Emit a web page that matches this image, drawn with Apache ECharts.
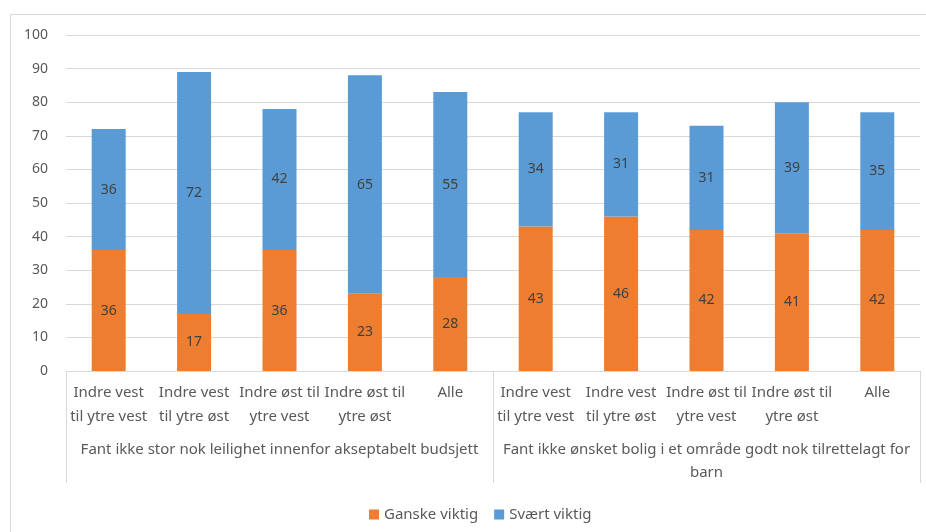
<!DOCTYPE html>
<html>
<head>
<meta charset="utf-8">
<script src="https://cdn.jsdelivr.net/npm/echarts@6/dist/echarts.min.js"></script>
<style>
  html, body { margin: 0; padding: 0; background: #fff; }
  #chart { width: 926px; height: 532px; }
</style>
</head>
<body>
<div id="chart"></div>
<script>
// Region pairs (inner axis level) and the two survey questions (outer level)
const categories = [
  'Indre vest til ytre vest', 'Indre vest til ytre øst', 'Indre øst til ytre vest', 'Indre øst til ytre øst', 'Alle',
  'Indre vest til ytre vest', 'Indre vest til ytre øst', 'Indre øst til ytre vest', 'Indre øst til ytre øst', 'Alle'
];
const groups = [
  'Fant ikke stor nok leilighet innenfor akseptabelt budsjett',
  'Fant ikke ønsket bolig i et område godt nok tilrettelagt for barn'
];
const ganskeViktig = [36, 17, 36, 23, 28, 43, 46, 42, 41, 42];
const svaertViktig = [36, 72, 42, 65, 55, 34, 31, 31, 39, 35];
const yTicks = [0, 10, 20, 30, 40, 50, 60, 70, 80, 90, 100];

const FONT = 'Noto Sans';
const TEXT = '#595959';
const LINE = '#D9D9D9';

// Greedy word wrap by character count
function wrap(text, maxChars) {
  const lines = [];
  let cur = '';
  text.split(' ').forEach(function (w) {
    const next = cur ? cur + ' ' + w : w;
    if (next.length > maxChars && cur) {
      lines.push(cur);
      cur = w;
    } else {
      cur = next;
    }
  });
  if (cur) lines.push(cur);
  return lines.join('\n');
}

const chart = echarts.init(document.getElementById('chart'));

const labelStyle = {
  show: true,
  position: 'inside',
  color: '#404040',
  fontFamily: FONT,
  fontSize: 14
};

chart.setOption({
  animation: false,
  backgroundColor: '#fff',
  textStyle: { fontFamily: FONT },
  graphic: [{
    type: 'rect',
    shape: { x: 10.5, y: 14.5, width: 940, height: 540 },
    style: { fill: 'none', stroke: LINE, lineWidth: 1 },
    silent: true,
    z: -1
  }],
  grid: { left: 66, right: 6, top: 35, bottom: 161 },
  legend: {
    left: 364,
    top: 502,
    itemWidth: 10,
    itemHeight: 10,
    itemGap: 16,
    icon: 'rect',
    textStyle: { color: TEXT, fontFamily: FONT, fontSize: 15 },
    data: ['Ganske viktig', 'Svært viktig']
  },
  xAxis: [{
    type: 'category',
    data: categories,
    position: 'bottom',
    axisLine: { show: true, lineStyle: { color: LINE } },
    axisTick: { show: false },
    axisLabel: {
      interval: 0,
      margin: 10,
      color: TEXT,
      fontFamily: FONT,
      fontSize: 15,
      lineHeight: 24,
      formatter: function (v) { return wrap(v, 13); }
    }
  }, {
    type: 'category',
    data: groups,
    position: 'bottom',
    axisLine: { show: false },
    axisTick: { show: true, length: 112, lineStyle: { color: LINE } },
    axisLabel: {
      interval: 0,
      margin: 67,
      color: TEXT,
      fontFamily: FONT,
      fontSize: 15,
      lineHeight: 23,
      formatter: function (v) { return wrap(v, 60); }
    }
  }],
  yAxis: {
    type: 'value',
    min: yTicks[0],
    max: yTicks[yTicks.length - 1],
    interval: yTicks[1] - yTicks[0],
    axisLine: { show: false },
    axisTick: { show: false },
    axisLabel: { margin: 18, color: TEXT, fontFamily: FONT, fontSize: 14 },
    splitLine: { lineStyle: { color: LINE } }
  },
  series: [{
    name: 'Ganske viktig',
    type: 'bar',
    stack: 'total',
    data: ganskeViktig,
    barWidth: 34,
    itemStyle: { color: '#ED7D31' },
    label: labelStyle
  }, {
    name: 'Svært viktig',
    type: 'bar',
    stack: 'total',
    data: svaertViktig,
    barWidth: 34,
    itemStyle: { color: '#5B9BD5' },
    label: labelStyle
  }]
});
</script>
</body>
</html>
